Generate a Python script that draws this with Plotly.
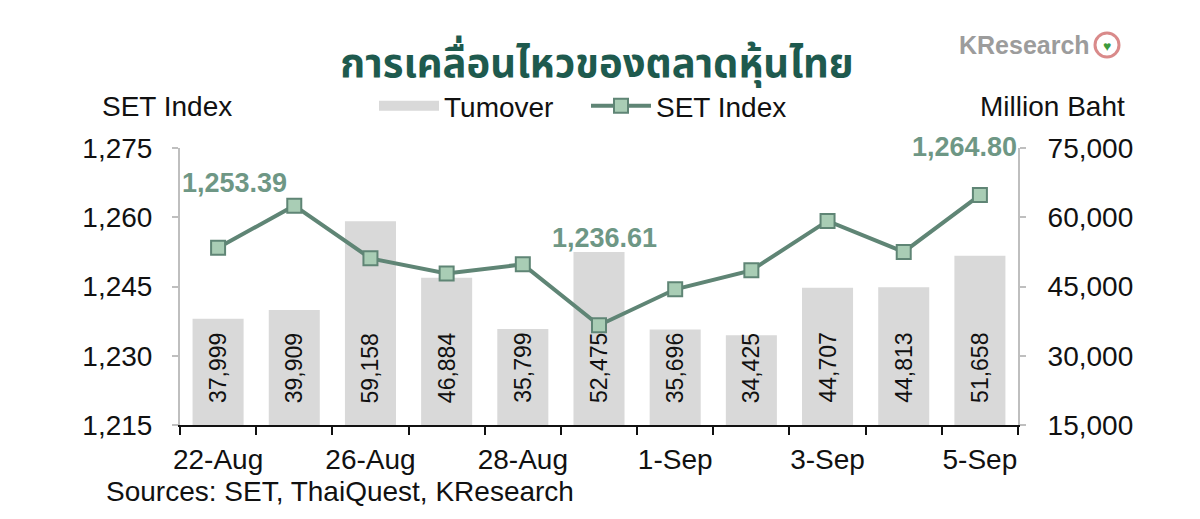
import plotly.graph_objects as go

dates = ["22-Aug", "25-Aug", "26-Aug", "27-Aug", "28-Aug", "29-Aug",
         "1-Sep", "2-Sep", "3-Sep", "4-Sep", "5-Sep"]
shown_labels = ["22-Aug", "", "26-Aug", "", "28-Aug", "", "1-Sep", "", "3-Sep", "", "5-Sep"]
turnover = [37999, 39909, 59158, 46884, 35799, 52475, 35696, 34425, 44707, 44813, 51658]
set_index = [1253.39, 1262.5, 1251.1, 1247.8, 1249.8, 1236.61, 1244.4, 1248.5, 1259.2, 1252.5, 1264.80]
left_ticks = [1215, 1230, 1245, 1260, 1275]
right_ticks = [15000, 30000, 45000, 60000, 75000]

FONT = "Liberation Sans, Arial, sans-serif"
GREEN = "#5f8575"
LABEL_GREEN = "#6e9785"
TXT = "#111111"

# page body has an 8px margin, so the figure is drawn 8px in from the top-left corner
OFF = 8
W, H = 1200 - OFF, 519 - OFF
L, R, T, B = 180 - OFF, 182, 148 - OFF, 94
PW, PH = W - L - R, H - T - B


def px(x):
    return (x - OFF - L) / PW


def py(y):
    return (H - B - (y - OFF)) / PH


fig = go.Figure()
# turnover bars on the (right-hand) base axis "y"
fig.add_trace(go.Bar(
    x=dates, y=turnover, name="Tumover", yaxis="y", showlegend=False,
    marker=dict(color="#d9d9d9", line=dict(width=0)), width=0.67,
))
# legend entry for the turnover bars (wide grey swatch)
fig.add_trace(go.Scatter(
    x=[None], y=[None], name="Tumover", mode="lines", yaxis="y",
    line=dict(color="#d9d9d9", width=18),
))
# SET index line on the overlaying (left-hand) axis "y2" so it draws above the bars
fig.add_trace(go.Scatter(
    x=dates, y=set_index, name="SET Index", yaxis="y2",
    mode="lines+markers",
    line=dict(color=GREEN, width=4),
    marker=dict(symbol="square", size=14, color="#a9cdb5", line=dict(color=GREEN, width=2)),
))

# rotated value labels at the base of each bar
for d, v in zip(dates, turnover):
    fig.add_annotation(x=d, y=15000, yref="y", text=f"{v:,}", showarrow=False,
                       textangle=-90, yanchor="bottom", xanchor="center", yshift=20,
                       font=dict(family=FONT, size=23, color=TXT))

# highlighted SET index values
callouts = [(0, 16, 65), (5, 5, 87), (10, -15, 48)]
for i, xs, ys in callouts:
    fig.add_annotation(x=dates[i], y=set_index[i], yref="y2", text=f"{set_index[i]:,.2f}",
                       showarrow=False, xshift=xs, yshift=ys, xanchor="center", yanchor="middle",
                       font=dict(family=FONT, size=27, color=LABEL_GREEN, weight="bold"))

# axis titles
fig.add_annotation(x=px(167), y=py(106), xref="paper", yref="paper", text="SET Index",
                   xanchor="center", yanchor="middle",
                   showarrow=False, font=dict(family=FONT, size=28, color=TXT))
fig.add_annotation(x=px(1052), y=py(106), xref="paper", yref="paper", text="Million Baht",
                   xanchor="center", yanchor="middle",
                   showarrow=False, font=dict(family=FONT, size=28, color=TXT))
# source
fig.add_annotation(x=px(104), y=py(491), xref="paper", yref="paper",
                   text="Sources: SET, ThaiQuest, KResearch", xanchor="left", yanchor="middle",
                   showarrow=False, font=dict(family=FONT, size=28, color=TXT))
# logo
fig.add_annotation(x=px(1092), y=py(45), xref="paper", yref="paper", text="KResearch",
                   xanchor="right", yanchor="middle", showarrow=False,
                   font=dict(family=FONT, size=25, color="#9c9c9c", weight="bold"))
fig.add_shape(type="circle", xref="paper", yref="paper",
              x0=px(1095), x1=px(1119), y0=py(57), y1=py(33),
              line=dict(color="#d98a8a", width=3), fillcolor="white")
fig.add_annotation(x=px(1107), y=py(45), xref="paper", yref="paper", text="♥",
                   xanchor="center", yanchor="middle",
                   showarrow=False, font=dict(size=14, color="#3c9a3c"))

fig.update_layout(
    width=W, height=H,
    paper_bgcolor="white", plot_bgcolor="white",
    margin=dict(l=L, r=R, t=T, b=B),
    title=dict(text="การเคลื่อนไหวของตลาดหุ้นไทย", x=(597 - OFF) / W, xanchor="center",
               y=1 - (63 - OFF) / H, yanchor="middle",
               font=dict(family="Noto Sans Thai, Tahoma, sans-serif", size=40, color="#1e5a4e",
                         weight="bold")),
    showlegend=True,
    legend=dict(orientation="h", x=px(374), xanchor="left", y=py(106), yanchor="middle",
                font=dict(family=FONT, size=28, color=TXT), itemwidth=60, entrywidth=137,
                bgcolor="rgba(0,0,0,0)", traceorder="normal"),
    bargap=0.33,
    xaxis=dict(type="category", tickmode="array", tickvals=dates, ticktext=shown_labels,
               tickson="boundaries", ticks="outside", ticklen=8, tickwidth=2, tickcolor=TXT,
               showline=True, linecolor=TXT, linewidth=2, showgrid=False,
               range=[-0.5, 10.5], ticklabelstandoff=8, tickangle=0, automargin=False,
               tickfont=dict(family=FONT, size=28, color=TXT)),
    yaxis=dict(range=[15000, 75000], tickmode="array", tickvals=right_ticks, tickformat=",",
               side="right", showline=True, linecolor="#bfbfbf", linewidth=2,
               ticks="outside", ticklen=6, tickcolor="#bfbfbf", tickwidth=2, showgrid=False,
               zeroline=False, ticklabelstandoff=16, automargin=False,
               tickfont=dict(family=FONT, size=28, color=TXT)),
    yaxis2=dict(range=[1215, 1275], tickmode="array", tickvals=left_ticks, tickformat=",",
                overlaying="y", side="left",
                showline=True, linecolor="#bfbfbf", linewidth=2, ticks="outside", ticklen=6,
                tickcolor="#bfbfbf", tickwidth=2, showgrid=False, zeroline=False,
                ticklabelstandoff=14, automargin=False,
                tickfont=dict(family=FONT, size=28, color=TXT)),
)

fig.write_html("out.html")
